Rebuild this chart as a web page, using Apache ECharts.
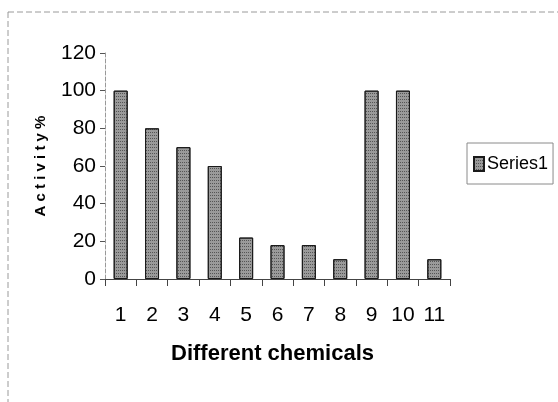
<!DOCTYPE html>
<html>
<head>
<meta charset="utf-8">
<script src="https://cdn.jsdelivr.net/npm/echarts@6/dist/echarts.min.js"></script>
<style>
  html, body { margin: 0; padding: 0; background: #fff; }
  #chart { width: 558px; height: 402px; }
</style>
</head>
<body>
<div id="chart"></div>
<script>
// data
const categories = ['1', '2', '3', '4', '5', '6', '7', '8', '9', '10', '11'];
const activity = [100, 80, 70, 60, 22, 18, 18, 10.5, 100, 100, 10.5];
const seriesName = 'Series1';

const chart = echarts.init(document.getElementById('chart'), null, { renderer: 'canvas' });

const font = 'Liberation Sans, Arial, sans-serif';

chart.setOption({
  backgroundColor: '#fff',
  animation: false,
  grid: { left: 105, top: 53, right: 108, bottom: 123 },
  legend: {
    data: [seriesName],
    icon: 'rect',
    left: 467,
    top: 143,
    orient: 'vertical',
    padding: [12, 5, 11, 6],
    borderColor: '#8a8a8a',
    borderWidth: 1,
    itemWidth: 10,
    itemHeight: 14,
    itemGap: 0,
    textStyle: { fontFamily: font, fontSize: 18, color: '#000', padding: [0, 0, 0, -2] }
  },
  xAxis: {
    type: 'category',
    data: categories,
    name: 'Different chemicals',
    nameLocation: 'middle',
    nameGap: 64,
    nameTextStyle: { fontFamily: font, fontSize: 22, fontWeight: 'bold', color: '#000', padding: [0, 10, 0, 0] },
    axisLine: { lineStyle: { color: '#444', width: 1 } },
    axisTick: { show: true, length: 7, lineStyle: { color: '#444' } },
    axisLabel: { fontFamily: font, fontSize: 21, color: '#000', margin: 26 }
  },
  yAxis: {
    type: 'value',
    min: 0,
    max: 120,
    interval: 20,
    name: 'A c t i v i t y %',
    nameLocation: 'middle',
    nameGap: 57,
    nameTextStyle: { fontFamily: font, fontSize: 15, fontWeight: 'bold', color: '#000' },
    splitLine: { show: false },
    axisLine: { show: true, lineStyle: { color: '#999', width: 1, type: [4, 2] } },
    axisTick: { show: true, length: 5, lineStyle: { color: '#555' } },
    axisLabel: { fontFamily: font, fontSize: 21, color: '#000', margin: 9 }
  },
  series: [{
    name: seriesName,
    type: 'bar',
    data: activity,
    barWidth: 14,
    itemStyle: {
      color: '#9a9a9a',
      borderColor: '#1a1a1a',
      borderWidth: 1,
      decal: {
        symbol: 'rect',
        symbolSize: 1,
        color: 'rgba(30,30,30,0.55)',
        dashArrayX: [1, 1],
        dashArrayY: [1, 2],
        rotation: 0
      }
    }
  }],
  graphic: [{
    type: 'rect',
    shape: { x: 8, y: 12, width: 600, height: 420 },
    style: { fill: 'none', stroke: '#9a9a9a', lineWidth: 1, lineDash: [6, 3] },
    silent: true
  }]
});
</script>
</body>
</html>
